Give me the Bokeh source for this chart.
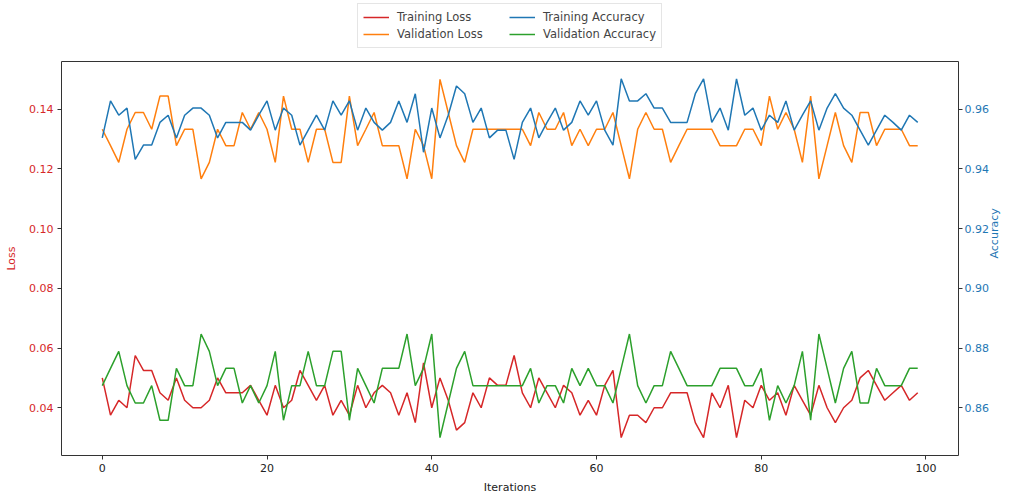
import math
from bokeh.plotting import figure
from bokeh.layouts import column
from bokeh.models import Range1d, LinearAxis, FixedTicker, Legend, LegendItem, PrintfTickFormatter
from bokeh.embed import file_html
from bokeh.resources import INLINE

iterations = list(range(100))

training_loss = [
    0.05, 0.0375, 0.0425, 0.04, 0.0575, 0.0525, 0.0525, 0.045, 0.0425, 0.05,
    0.0425, 0.04, 0.04, 0.0425, 0.05, 0.045, 0.045, 0.045, 0.0475, 0.0425,
    0.0375, 0.0475, 0.04, 0.0425, 0.0525, 0.0475, 0.0425, 0.0475, 0.0375, 0.0425,
    0.0375, 0.0475, 0.04, 0.045, 0.0475, 0.045, 0.0375, 0.045, 0.035, 0.055,
    0.04, 0.05, 0.0425, 0.0325, 0.035, 0.045, 0.04, 0.05, 0.0475, 0.0475,
    0.0575, 0.045, 0.04, 0.05, 0.045, 0.04, 0.0475, 0.045, 0.0375, 0.0425,
    0.0375, 0.0475, 0.0525, 0.03, 0.0375, 0.0375, 0.035, 0.04, 0.04, 0.045,
    0.045, 0.045, 0.035, 0.03, 0.045, 0.04, 0.0475, 0.03, 0.0425, 0.04,
    0.0475, 0.0425, 0.045, 0.0375, 0.0475, 0.0425, 0.0375, 0.0475, 0.04, 0.035,
    0.04, 0.0425, 0.05, 0.0525, 0.0475, 0.0425, 0.045, 0.0475, 0.0425, 0.045,
]

validation_loss = [
    0.1333, 0.1278, 0.1222, 0.1333, 0.1389, 0.1389, 0.1333, 0.1444, 0.1444, 0.1278,
    0.1333, 0.1333, 0.1167, 0.1222, 0.1333, 0.1278, 0.1278, 0.1389, 0.1333, 0.1389,
    0.1333, 0.1222, 0.1444, 0.1333, 0.1333, 0.1222, 0.1333, 0.1333, 0.1222, 0.1222,
    0.1444, 0.1278, 0.1333, 0.1389, 0.1278, 0.1278, 0.1278, 0.1167, 0.1333, 0.1278,
    0.1167, 0.15, 0.1389, 0.1278, 0.1222, 0.1333, 0.1333, 0.1333, 0.1333, 0.1333,
    0.1333, 0.1333, 0.1278, 0.1389, 0.1333, 0.1333, 0.1389, 0.1278, 0.1333, 0.1278,
    0.1333, 0.1333, 0.1389, 0.1278, 0.1167, 0.1333, 0.1389, 0.1333, 0.1333, 0.1222,
    0.1278, 0.1333, 0.1333, 0.1333, 0.1333, 0.1278, 0.1278, 0.1278, 0.1333, 0.1333,
    0.1278, 0.1444, 0.1333, 0.1389, 0.1333, 0.1222, 0.1444, 0.1167, 0.1278, 0.1389,
    0.1278, 0.1222, 0.1389, 0.1389, 0.1278, 0.1333, 0.1333, 0.1333, 0.1278, 0.1278,
]

training_accuracy = [
    0.9504, 0.9628, 0.958, 0.9604, 0.9432, 0.948, 0.948, 0.9556, 0.958, 0.9504,
    0.958, 0.9604, 0.9604, 0.958, 0.9504, 0.9556, 0.9556, 0.9556, 0.953, 0.958,
    0.9628, 0.953, 0.9604, 0.958, 0.948, 0.953, 0.958, 0.953, 0.9628, 0.958,
    0.9628, 0.953, 0.9604, 0.9556, 0.953, 0.9556, 0.9628, 0.9556, 0.9652, 0.9456,
    0.9604, 0.9504, 0.958, 0.9678, 0.9652, 0.9556, 0.9604, 0.9504, 0.953, 0.953,
    0.9432, 0.9556, 0.9604, 0.9504, 0.9556, 0.9604, 0.953, 0.9556, 0.9628, 0.958,
    0.9628, 0.953, 0.948, 0.9702, 0.9628, 0.9628, 0.9652, 0.9604, 0.9604, 0.9556,
    0.9556, 0.9556, 0.9652, 0.9702, 0.9556, 0.9604, 0.953, 0.9702, 0.958, 0.9604,
    0.953, 0.958, 0.9556, 0.9628, 0.953, 0.958, 0.9628, 0.953, 0.9604, 0.9652,
    0.9604, 0.958, 0.953, 0.948, 0.953, 0.958, 0.9556, 0.953, 0.958, 0.9556,
]

validation_accuracy = [
    0.8674, 0.8732, 0.8789, 0.8674, 0.8616, 0.8616, 0.8674, 0.8558, 0.8558, 0.8732,
    0.8674, 0.8674, 0.8847, 0.8789, 0.8674, 0.8732, 0.8732, 0.8616, 0.8674, 0.8616,
    0.8674, 0.8789, 0.8558, 0.8674, 0.8674, 0.8789, 0.8674, 0.8674, 0.8789, 0.8789,
    0.8558, 0.8732, 0.8674, 0.8616, 0.8732, 0.8732, 0.8732, 0.8847, 0.8674, 0.8732,
    0.8847, 0.85, 0.8616, 0.8732, 0.8789, 0.8674, 0.8674, 0.8674, 0.8674, 0.8674,
    0.8674, 0.8674, 0.8732, 0.8616, 0.8674, 0.8674, 0.8616, 0.8732, 0.8674, 0.8732,
    0.8674, 0.8674, 0.8616, 0.8732, 0.8847, 0.8674, 0.8616, 0.8674, 0.8674, 0.8789,
    0.8732, 0.8674, 0.8674, 0.8674, 0.8674, 0.8732, 0.8732, 0.8732, 0.8674, 0.8674,
    0.8732, 0.8558, 0.8674, 0.8616, 0.8674, 0.8789, 0.8558, 0.8847, 0.8732, 0.8616,
    0.8732, 0.8789, 0.8616, 0.8616, 0.8732, 0.8674, 0.8674, 0.8674, 0.8732, 0.8732,
]

series_labels = ["Training Loss", "Validation Loss", "Training Accuracy", "Validation Accuracy"]
x_ticks = [0, 20, 40, 60, 80, 100]
loss_ticks = [0.04, 0.06, 0.08, 0.10, 0.12, 0.14]
acc_ticks = [0.86, 0.88, 0.90, 0.92, 0.94, 0.96]

RED = "#d62728"
ORANGE = "#ff7f0e"
BLUE = "#1f77b4"
GREEN = "#2ca02c"
FONT = "DejaVu Sans"
FS = "11px"

# ---------------- main chart ----------------
p = figure(width=1010, height=436, output_backend="svg", toolbar_location=None,
           x_range=Range1d(-4.95, 103.95), y_range=Range1d(0.024, 0.156),
           min_border_left=61, min_border_right=49, min_border_top=1,
           min_border_bottom=39)
p.extra_y_ranges = {"acc": Range1d(0.844, 0.976)}
p.grid.visible = False
p.outline_line_color = "#333333"
p.outline_line_width = 1
p.background_fill_color = "white"
p.border_fill_color = "white"

p.line(iterations, training_loss, color=RED, line_width=1.5)
p.line(iterations, validation_loss, color=ORANGE, line_width=1.5)
p.line(iterations, training_accuracy, color=BLUE, line_width=1.5, y_range_name="acc")
p.line(iterations, validation_accuracy, color=GREEN, line_width=1.5, y_range_name="acc")

right = LinearAxis(y_range_name="acc")
p.add_layout(right, "right")

def style(ax, color):
    ax.axis_line_color = None
    ax.major_tick_line_color = "#333333"
    ax.major_tick_out = 4
    ax.major_tick_in = 0
    ax.minor_tick_line_color = None
    ax.major_label_text_font = FONT
    ax.major_label_text_font_size = FS
    ax.major_label_text_color = color
    ax.axis_label_text_font = FONT
    ax.axis_label_text_font_size = FS
    ax.axis_label_text_font_style = "normal"
    ax.axis_label_text_color = color

xa = p.xaxis[0]
style(xa, "#222222")
xa.ticker = FixedTicker(ticks=x_ticks)
xa.axis_label = "Iterations"
xa.major_label_standoff = 4
xa.axis_label_standoff = 6

ya = p.yaxis[0]
style(ya, RED)
ya.ticker = FixedTicker(ticks=loss_ticks)
ya.formatter = PrintfTickFormatter(format="%.2f")
ya.axis_label = "Loss"
ya.major_label_standoff = 4
ya.axis_label_standoff = 8

style(right, BLUE)
right.ticker = FixedTicker(ticks=acc_ticks)
right.formatter = PrintfTickFormatter(format="%.2f")
right.axis_label = "Accuracy"
right.axis_label_orientation = math.pi / 2
right.major_label_standoff = 2
right.axis_label_standoff = 3

# ---------------- legend strip above the chart ----------------
lg = figure(width=1010, height=60, output_backend="svg", toolbar_location=None,
            x_range=Range1d(1000, 1001), y_range=Range1d(1000, 1001),
            x_axis_type=None, y_axis_type=None,
            min_border_left=0, min_border_right=0, min_border_top=0, min_border_bottom=0)
lg.grid.visible = False
lg.outline_line_color = None
lg.background_fill_color = "white"
lg.border_fill_color = "white"
colors = [RED, ORANGE, BLUE, GREEN]
series = [training_loss, validation_loss, training_accuracy, validation_accuracy]
items = []
for lab, col, ys in zip(series_labels, colors, series):
    # same series, drawn outside this strip's visible range: only its legend entry shows
    rr = lg.line(iterations, ys, color=col, line_width=1.5)
    items.append(LegendItem(label=lab, renderers=[rr]))

legend = Legend(items=items, ncols=2, location=(296, 12))
legend.label_text_font = FONT
legend.label_text_font_size = "11.5px"
legend.label_height = 16
legend.glyph_height = 16
legend.glyph_width = 26
legend.label_width = 111
legend.label_standoff = 8
legend.spacing = 1
legend.padding = 5
legend.margin = 0
legend.border_line_color = "#cccccc"
legend.border_line_width = 1
legend.background_fill_alpha = 0.8
lg.add_layout(legend)

layout = column(lg, p, spacing=0)
open("out.html", "w").write(file_html(layout, INLINE))
